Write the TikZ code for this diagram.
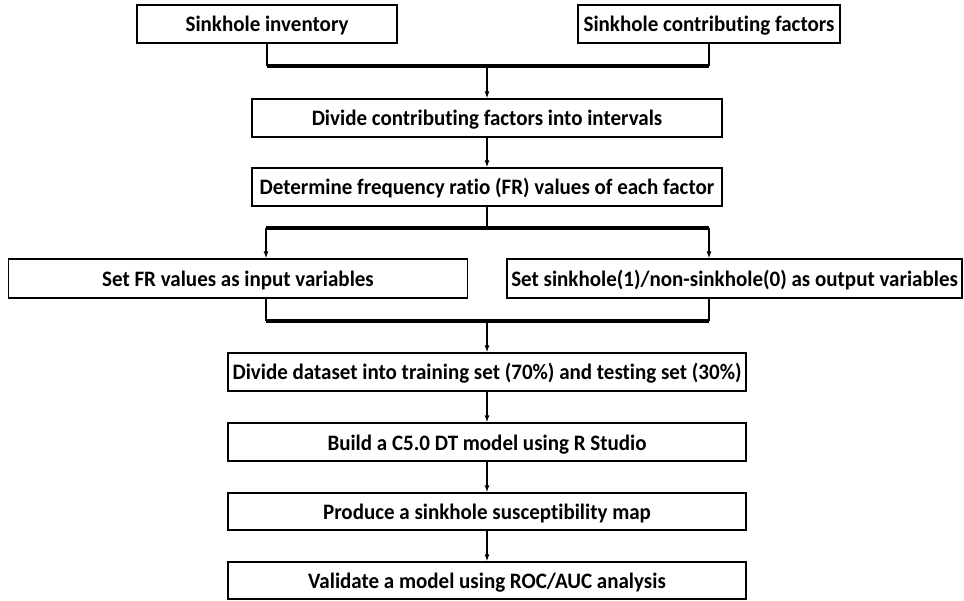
\documentclass[tikz,border=0pt]{standalone}
\usepackage{fontspec}
\usepackage{graphicx}
\setmainfont{Carlito}[Ligatures=NoCommon]
\usetikzlibrary{arrows.meta}
\newcommand{\tallt}[1]{\scalebox{1}[1.05]{#1}}
\begin{document}
\begin{tikzpicture}[x=1pt,y=-1pt,
  box/.style={draw, line width=1.3pt, inner sep=0pt, align=center,
    text height=17.5pt, text depth=1.5pt,
    font=\bfseries\fontsize{21}{24}\selectfont},
  thinline/.style={line width=1.4pt},
  bus/.style={line width=3.2pt},
  arr/.style={line width=1.4pt, -{Latex[length=7pt,width=5pt]}}]
\useasboundingbox (0,0) rectangle (964,601);
\node[box, minimum width=260pt, minimum height=38pt] (b1) at (267,24) {\tallt{Sinkhole inventory}};
\node[box, minimum width=262pt, minimum height=38pt] (b2) at (709,24) {\tallt{Sinkhole contributing factors}};
\node[box, minimum width=470pt, minimum height=38pt] (b3) at (487,118) {\tallt{Divide contributing factors into intervals}};
\node[box, minimum width=470pt, minimum height=38pt] (b4) at (487,187) {\tallt{Determine frequency ratio (FR) values of each factor}};
\node[box, minimum width=459pt, minimum height=39pt] (b5) at (238,278.5) {\tallt{Set FR values as input variables}};
\node[box, minimum width=455pt, minimum height=39pt] (b6) at (734.5,278.5) {\tallt{Set sinkhole(1)/non-sinkhole(0) as output variables}};
\node[box, minimum width=518pt, minimum height=38pt] (b7) at (487,372) {\tallt{Divide dataset into training set (70\%) and testing set (30\%)}};
\node[box, minimum width=518pt, minimum height=38pt] (b8) at (487,442) {\tallt{Build a C5.0 DT model using R Studio}};
\node[box, minimum width=518pt, minimum height=37pt] (b9) at (487,511.5) {\tallt{Produce a sinkhole susceptibility map}};
\node[box, minimum width=518pt, minimum height=37pt] (b10) at (487,580.5) {\tallt{Validate a model using ROC/AUC analysis}};
% bus 1
\coordinate (l1) at (267,66);
\coordinate (r1) at (709,66);
\coordinate (m1) at (487,66);
\draw[thinline] (b1.south) -- (l1);
\draw[thinline] (b2.south) -- (r1);
\draw[bus] (l1) -- (r1);
\draw[arr] (m1) -- (b3.north);
\draw[arr] (b3.south) -- (b4.north);
% bus 2
\coordinate (m2) at (487,228);
\coordinate (l2) at (266,228);
\coordinate (r2) at (709,228);
\draw[thinline] (b4.south) -- (m2);
\draw[bus] (l2) -- (r2);
\draw[arr] (l2) -- (b5.north -| l2);
\draw[arr] (r2) -- (b6.north -| r2);
% bus 3
\coordinate (l3) at (266,321);
\coordinate (r3) at (709,321);
\coordinate (m3) at (487,321);
\draw[thinline] (b5.south -| l3) -- (l3);
\draw[thinline] (b6.south -| r3) -- (r3);
\draw[bus] (l3) -- (r3);
\draw[arr] (m3) -- (b7.north);
\draw[arr] (b7.south) -- (b8.north);
\draw[arr] (b8.south) -- (b9.north);
\draw[arr] (b9.south) -- (b10.north);
\end{tikzpicture}
\end{document}
